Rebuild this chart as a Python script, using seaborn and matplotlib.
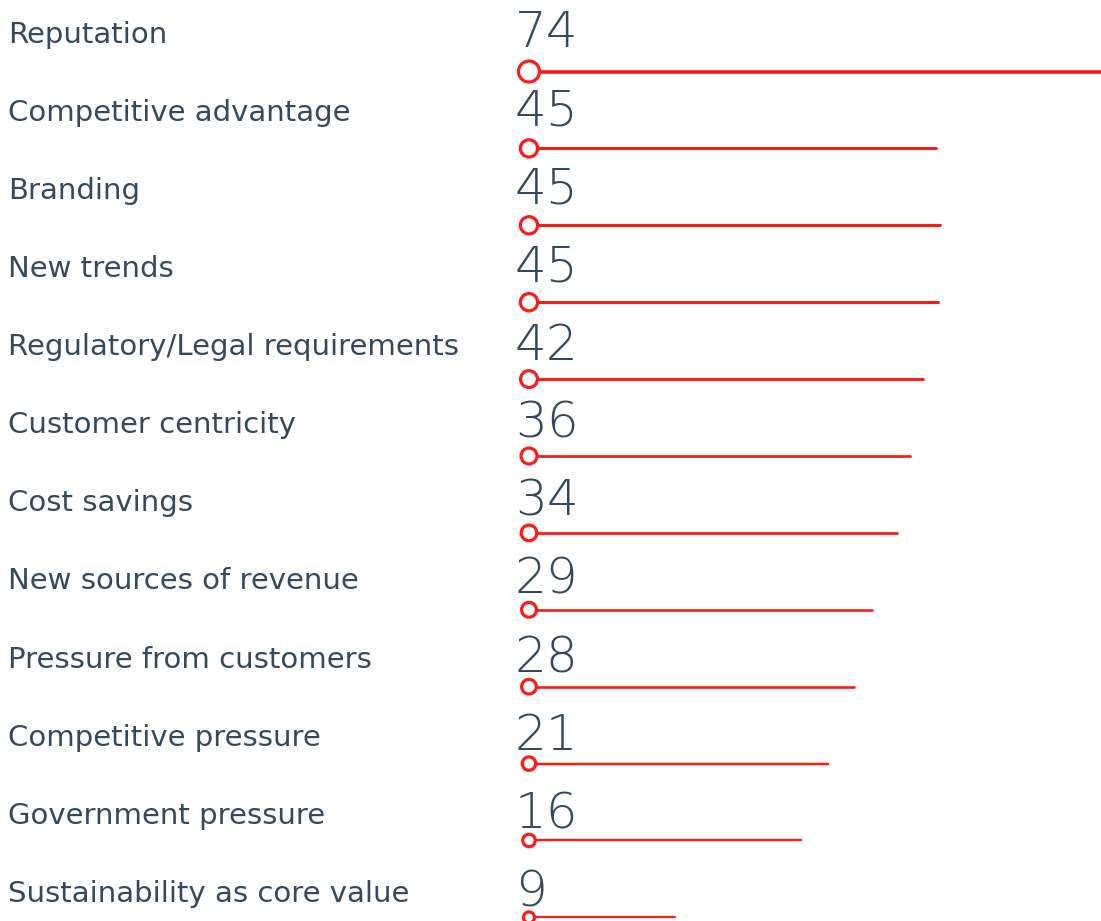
import pandas as pd
import matplotlib.pyplot as plt
import seaborn as sns

# Datos
categories = ["Reputation", "Competitive advantage", "Branding", "New trends",
              "Regulatory/Legal requirements", "Customer centricity", "Cost savings",
              "New sources of revenue", "Pressure from customers", "Competitive pressure",
              "Government pressure", "Sustainability as core value"]
values = [74, 45, 45, 45, 42, 36, 34, 29, 28, 21, 16, 9]
# longitud de cada línea tal como aparece dibujada (no proporcional al valor)
line_length = [572, 407, 411, 409, 394, 381, 368, 343, 325, 299, 272, 146]

RED = "#ff1a1a"
TEXT = "#34495e"

sns.set_theme(style="white")
plt.rcParams["font.family"] = ["DejaVu Sans"]

rows = list(range(len(categories)))
lines_df = pd.DataFrame({
    "row": rows + rows,
    "x": [0] * len(rows) + line_length,
    "cat": categories + categories,
    "value": values + values,
})
start_df = pd.DataFrame({"row": rows, "x": [0] * len(rows), "value": values})

fig = plt.figure(figsize=(11.01, 9.21), dpi=100)
ax = fig.add_axes([0, 0, 1, 1])

# líneas: grosor según el valor
sns.lineplot(data=lines_df, x="x", y="row", units="cat", estimator=None,
             size="value", sizes=(1.6, 2.6), size_norm=(9, 74),
             color=RED, sort=False, legend=False, ax=ax)

# círculos de inicio: tamaño según el valor
sns.scatterplot(data=start_df, x="x", y="row", size="value",
                sizes=(63, 228), size_norm=(9, 74), legend=False,
                facecolor="white", edgecolor=RED, linewidth=2.3, zorder=5, ax=ax)

trans = ax.get_yaxis_transform()
for i, (cat, val) in enumerate(zip(categories, values)):
    # el texto queda un poco por encima de cada línea
    dy = -0.48 + 0.016 * i
    ax.text(8 / 1101, i + dy, cat, transform=trans, ha="left", va="center",
            fontsize=21, color=TEXT)
    ax.text(-14, i + dy - 0.02, str(val), ha="left", va="center",
            fontsize=36, fontweight="light", color=TEXT)

ax.set_xlim(-529, 572)
ax.set_ylim(11.047, -0.930)
ax.axis("off")

fig.savefig("out.png", dpi=100)
